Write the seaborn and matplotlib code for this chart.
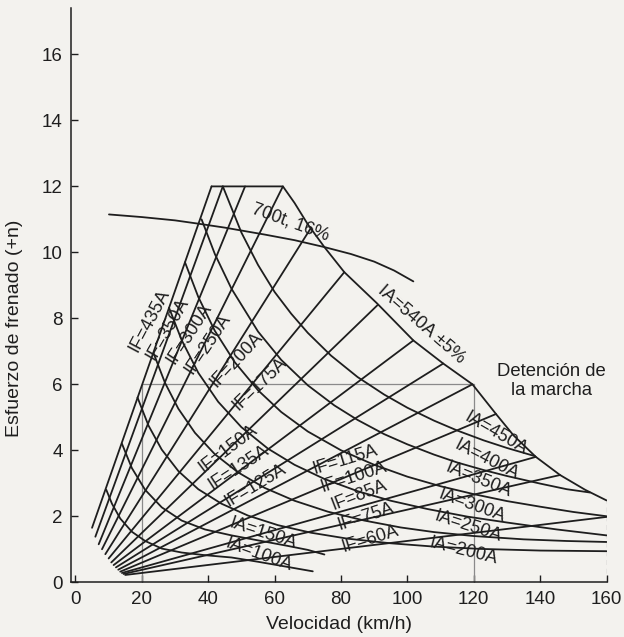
import matplotlib
matplotlib.use("Agg")
import matplotlib.pyplot as plt
import pandas as pd
import seaborn as sns

# Field-current lines IF (straight): start point and end point on the envelope
IF_AMPS = [435, 350, 300, 250, 200, 175, 150, 135, 125, 115, 100, 85, 75, 60]
IF_V0 = [5.0, 6.0, 7.0, 8.0, 9.0, 10.0, 10.8, 11.5, 12.2, 12.9, 13.5, 14.0, 14.5, 15.0]
IF_F0 = [1.65, 1.38, 1.15, 1.0, 0.85, 0.72, 0.6, 0.52, 0.45, 0.38, 0.32, 0.28, 0.25, 0.22]
IF_V1 = [41, 44.4, 51.1, 62.5, 71, 81, 91, 101.8, 110.8, 119.6, 126.7, 138.7, 146, 160]
IF_F1 = [12, 12, 12, 12, 10.75, 9.4, 8.4, 7.33, 6.63, 6.0, 5.1, 3.8, 3.25, 1.98]

# Armature-current curves IA
IA540_V = [41, 62.5, 66, 70, 75, 81, 90.9, 101.8, 110.8, 119.6, 126.7, 132, 138.7, 146, 153.6, 160]
IA540_F = [12, 12, 11.5, 10.85, 10.16, 9.4, 8.45, 7.33, 6.63, 6.0, 5.1, 4.45, 3.8, 3.25, 2.8, 2.48]
IA450_V = [44.4, 50, 55, 60, 65, 70, 77, 85, 93, 100, 108, 115, 123, 130, 138.5]
IA450_F = [12, 10.6, 9.62, 8.8, 8.14, 7.56, 6.87, 6.22, 5.69, 5.29, 4.9, 4.6, 4.3, 4.07, 3.82]
IA400_V = [38, 42, 47, 55, 62, 70, 78, 85, 93, 100, 108, 115, 123, 130, 140, 148, 155]
IA400_F = [11.0, 9.95, 8.9, 7.6, 6.74, 5.97, 5.36, 4.92, 4.49, 4.18, 3.87, 3.63, 3.4, 3.22, 2.99, 2.82, 2.72]
IA350_V = [33, 37, 42, 48, 55, 62, 70, 80, 90, 100, 110, 120, 130, 140, 150, 160]
IA350_F = [9.7, 8.65, 7.62, 6.67, 5.82, 5.16, 4.57, 4.0, 3.56, 3.2, 2.91, 2.67, 2.46, 2.29, 2.13, 2.0]
IA300_V = [28.2, 32, 37, 43, 50, 58, 66, 75, 85, 95, 106, 118, 130, 145, 160]
IA300_F = [8.32, 7.34, 6.35, 5.47, 4.7, 4.05, 3.56, 3.13, 2.76, 2.47, 2.22, 1.99, 1.81, 1.6, 1.42]
IA250_V = [23.5, 27, 31, 36, 42, 49, 57, 66, 76, 87, 98, 108, 120, 135, 148, 160]
IA250_F = [6.95, 6.04, 5.26, 4.53, 3.88, 3.33, 2.86, 2.47, 2.14, 1.87, 1.66, 1.52, 1.4, 1.3, 1.25, 1.22]
IA200_V = [18.7, 22, 26, 31, 37, 44, 52, 61, 71, 82, 95, 108, 122, 140, 160]
IA200_F = [5.6, 4.75, 4.02, 3.37, 2.82, 2.38, 2.02, 1.73, 1.5, 1.32, 1.18, 1.08, 1.01, 0.96, 0.94]
IA150_V = [14, 17, 21, 26, 32, 39, 47, 56, 64, 70, 75]
IA150_F = [4.2, 3.46, 2.8, 2.27, 1.87, 1.6, 1.42, 1.25, 1.1, 0.98, 0.84]
IA100_V = [9.3, 11, 13.5, 17, 21, 26, 32, 39, 47, 55, 63, 71.5]
IA100_F = [2.8, 2.38, 1.93, 1.53, 1.25, 1.02, 0.9, 0.82, 0.75, 0.62, 0.48, 0.33]

# Load curve 700 t on 16 per mille
T700_V = [10.1, 20, 30, 37, 45, 57, 66, 75, 83, 90, 96, 101.8]
T700_F = [11.15, 11.07, 10.97, 10.87, 10.75, 10.54, 10.37, 10.16, 9.95, 9.72, 9.45, 9.12]

# Curve labels: text, x, y, rotation
LABELS = [
    ("IF=435A", 22.2, 7.94, 62), ("IF=350A", 27.7, 7.69, 60), ("IF=300A", 34.2, 7.54, 57),
    ("IF=250A", 39.9, 7.23, 56), ("IF=200A", 48.6, 6.73, 47), ("IF=175A", 55.6, 6.02, 44),
    ("IF=150A", 46.1, 4.05, 37), ("IF=135A", 49.1, 3.49, 33), ("IF=125A", 54.1, 2.94, 31),
    ("IF=115A", 81.4, 3.7, 17), ("IF=100A", 83.9, 3.19, 18), ("IF=85A", 85.4, 2.64, 21),
    ("IF=75A", 87.4, 1.98, 18), ("IF=60A", 88.9, 1.32, 17),
    ("IA=150A", 56.6, 1.48, -18), ("IA=100A", 55.3, 0.82, -20),
    ("IA=450A", 126.7, 4.5, -30), ("IA=400A", 123.7, 3.7, -27), ("IA=350A", 121.3, 3.09, -22),
    ("IA=300A", 119.3, 2.33, -20), ("IA=250A", 118.3, 1.68, -18), ("IA=200A", 116.8, 0.94, -14),
    ("IA=540A ±5%", 104.3, 7.8, -41), ("700t, 16%", 64.7, 10.9, -20),
]

INK = "#1e1e1e"
GUIDE = "#8a8a8a"
PAPER = "#f3f2ee"

rows = []
for i, amps in enumerate(IF_AMPS):
    rows.append(("IF%d" % amps, IF_V0[i], IF_F0[i]))
    rows.append(("IF%d" % amps, IF_V1[i], IF_F1[i]))
curves = {
    "IA540": (IA540_V, IA540_F), "IA450": (IA450_V, IA450_F), "IA400": (IA400_V, IA400_F),
    "IA350": (IA350_V, IA350_F), "IA300": (IA300_V, IA300_F), "IA250": (IA250_V, IA250_F),
    "IA200": (IA200_V, IA200_F), "IA150": (IA150_V, IA150_F), "IA100": (IA100_V, IA100_F),
    "T700": (T700_V, T700_F),
}
for name, (vs, fs) in curves.items():
    for v, f in zip(vs, fs):
        rows.append((name, v, f))
df = pd.DataFrame(rows, columns=["curve", "v", "F"])

sns.set_theme(style="ticks")
plt.rcParams["font.family"] = ["Liberation Sans", "DejaVu Sans"]

fig = plt.figure(figsize=(6.24, 6.37), dpi=100, facecolor=PAPER)
ax = fig.add_axes([0.114, 0.086, 0.858, 0.901])
ax.set_facecolor(PAPER)

# Guide lines
ax.plot([20, 20], [0, 6], color=GUIDE, lw=0.9)
ax.plot([20, 120], [6, 6], color=GUIDE, lw=0.9)
ax.plot([120, 120], [0, 6], color=GUIDE, lw=0.9)
ax.plot([160, 160], [0, 2.48], color=GUIDE, lw=0.9, ls=(0, (4, 3)))

sns.lineplot(data=df, x="v", y="F", units="curve", estimator=None, sort=False,
             color=INK, linewidth=1.3, legend=False, ax=ax)

for text, x, y, rot in LABELS:
    ax.text(x, y, text, rotation=rot, rotation_mode="anchor", ha="center", va="center",
            fontsize=13, color=INK)
ax.text(143.5, 6.1, "Detención de\nla marcha", ha="center", va="center", fontsize=13.3,
        color=INK, linespacing=1.1)

ax.set_xlim(-1.3, 160)
ax.set_ylim(0, 17.4)
ax.set_xticks(range(0, 161, 20))
ax.set_yticks(range(0, 17, 2))
ax.tick_params(direction="in", length=5, width=1, colors=INK, labelsize=13.5, pad=6)
ax.set_xlabel("Velocidad (km/h)", fontsize=14, color=INK, labelpad=6)
ax.set_ylabel("Esfuerzo de frenado (+n)", fontsize=14, color=INK)
ax.yaxis.set_label_coords(-0.09, 0.443)
sns.despine(ax=ax)
for s in ("left", "bottom"):
    ax.spines[s].set_color(INK)
    ax.spines[s].set_linewidth(1.1)

fig.savefig("out.png", dpi=100, facecolor=PAPER)
